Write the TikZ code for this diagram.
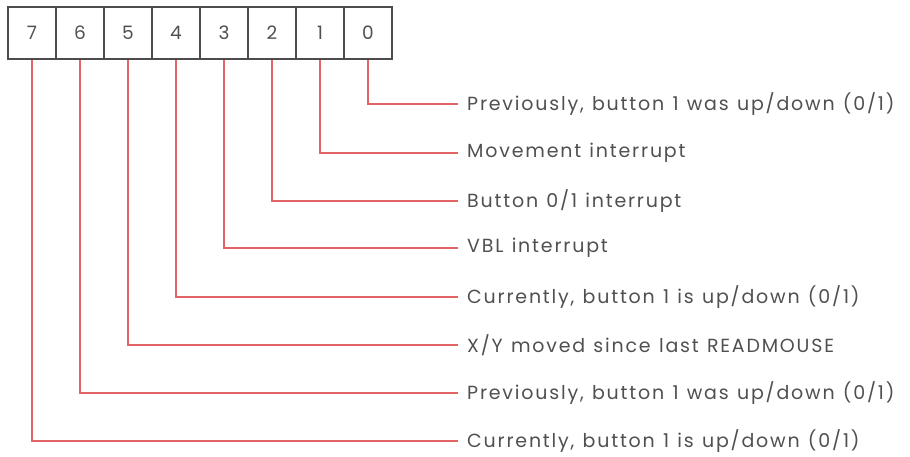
\documentclass[tikz,border=0pt]{standalone}
\usepackage{fontspec}
\setmainfont{Poppins}
\newfontfamily\descfont[LetterSpace=9.5,WordSpace=1.2]{Poppins}
\begin{document}
\begin{tikzpicture}[x=1pt,y=-1pt]
\definecolor{leadred}{RGB}{226,98,102}
\definecolor{inkgray}{RGB}{80,80,80}
\tikzset{
  bitbox/.style={draw=black!70,line width=1.6pt,minimum width=48pt,minimum height=52pt,inner sep=0pt,
    font=\fontsize{18.5}{18.5}\selectfont,text=inkgray},
  lead/.style={draw=leadred,line width=2.4pt},
  desc/.style={anchor=west,inner sep=0pt,font=\descfont\fontsize{19}{19}\selectfont,text=inkgray}}
\useasboundingbox (0,0) rectangle (910,457);
% register cells, bit 7 on the left
\foreach \b [count=\i from 0] in {7,6,5,4,3,2,1,0}
  \node[bitbox] (b\b) at (32+48*\i,33) {\b};
% descriptions, top to bottom for bits 0..7
\node[desc] (d0) at (467,104) {Previously, button 1 was up/down (0/1)};
\node[desc] (d1) at (467,153) {Movement interrupt};
\node[desc] (d2) at (467,201) {Button 0/1 interrupt};
\node[desc] (d3) at (467,248) {VBL interrupt};
\node[desc] (d4) at (467,297) {Currently, button 1 is up/down (0/1)};
\node[desc] (d5) at (467,345) {X/Y moved since last READMOUSE};
\node[desc] (d6) at (467,393) {Previously, button 1 was up/down (0/1)};
\node[desc] (d7) at (467,441) {Currently, button 1 is up/down (0/1)};
% leader lines
\foreach \b in {0,...,7}
  \draw[lead] (b\b.south) |- ([xshift=-9pt]d\b.west);
\end{tikzpicture}
\end{document}
